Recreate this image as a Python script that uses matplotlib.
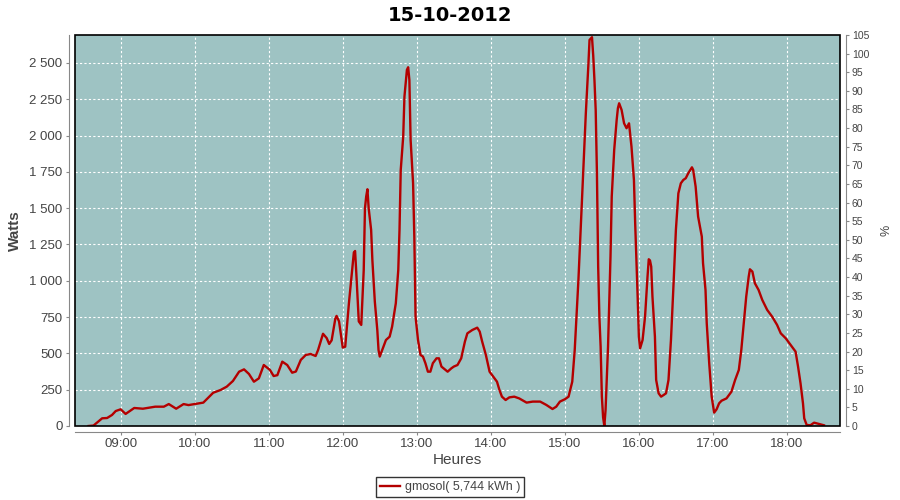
import matplotlib
matplotlib.use('Agg')
import matplotlib.pyplot as plt
import matplotlib.dates as mdates
from matplotlib.patches import Rectangle
from matplotlib.ticker import FuncFormatter, MultipleLocator
import pandas as pd

# puissance instantanee (W)
heures = ['08:34', '08:38', '08:45', '08:49', '08:53', '08:56', '09:00', '09:04',
          '09:11', '09:18', '09:28', '09:35', '09:39', '09:45', '09:51', '09:55',
          '10:00', '10:07', '10:15', '10:21', '10:26', '10:31', '10:36', '10:40',
          '10:44', '10:48', '10:52', '10:56', '11:01', '11:04', '11:07', '11:11',
          '11:15', '11:19', '11:22', '11:26', '11:30', '11:34', '11:38', '11:40',
          '11:44', '11:47', '11:49', '11:51', '11:54', '11:55', '11:57', '12:00',
          '12:02', '12:05', '12:07', '12:09', '12:10', '12:11', '12:13', '12:15',
          '12:17', '12:18', '12:19', '12:20', '12:21', '12:23', '12:24', '12:26',
          '12:28', '12:29', '12:30', '12:32', '12:35', '12:38', '12:40', '12:43',
          '12:45', '12:46', '12:47', '12:49', '12:50', '12:52', '12:53', '12:54',
          '12:55', '12:57', '12:58', '12:59', '13:01', '13:03', '13:05', '13:07',
          '13:09', '13:11', '13:13', '13:16', '13:18', '13:20', '13:25', '13:28',
          '13:30', '13:33', '13:36', '13:39', '13:41', '13:45', '13:49', '13:51',
          '13:53', '13:56', '13:59', '14:02', '14:05', '14:07', '14:09', '14:12',
          '14:15', '14:19', '14:23', '14:29', '14:34', '14:40', '14:45', '14:50',
          '14:53', '14:56', '15:00', '15:03', '15:06', '15:08', '15:11', '15:14',
          '15:17', '15:19', '15:20', '15:22', '15:23', '15:24', '15:25', '15:26',
          '15:27', '15:28', '15:29', '15:30', '15:31', '15:32', '15:33', '15:35',
          '15:37', '15:38', '15:40', '15:42', '15:43', '15:44', '15:46', '15:48',
          '15:50', '15:52', '15:54', '15:56', '15:57', '15:59', '16:00', '16:01',
          '16:03', '16:05', '16:07', '16:08', '16:09', '16:10', '16:11', '16:13',
          '16:14', '16:16', '16:18', '16:20', '16:22', '16:24', '16:26', '16:28',
          '16:30', '16:32', '16:34', '16:36', '16:38', '16:40', '16:43', '16:44',
          '16:46', '16:48', '16:51', '16:52', '16:54', '16:55', '16:57', '16:59',
          '17:01', '17:03', '17:05', '17:07', '17:11', '17:15', '17:18', '17:21',
          '17:23', '17:25', '17:27', '17:29', '17:30', '17:32', '17:34', '17:37',
          '17:40', '17:44', '17:48', '17:52', '17:55', '17:59', '18:01', '18:04',
          '18:07', '18:09', '18:11', '18:13', '18:14', '18:16', '18:19', '18:22',
          '18:26', '18:30']
watts = [0, 3, 53, 55, 76, 103, 115, 83,
         124, 119, 133, 133, 151, 119, 151, 144,
         151, 161, 229, 248, 271, 310, 374, 390,
         358, 305, 328, 420, 386, 344, 350, 443,
         420, 367, 375, 455, 489, 496, 482, 523,
         635, 605, 565, 590, 740, 758, 720, 540,
         546, 845, 1017, 1195, 1205, 1051, 720, 696,
         1074, 1499, 1580, 1630, 1500, 1350, 1143, 856,
         661, 523, 478, 523, 592, 615, 684, 845,
         1074, 1350, 1763, 1993, 2268, 2452, 2470, 2383,
         1970, 1671, 1304, 753, 592, 489, 478, 432,
         374, 374, 432, 466, 466, 409, 374, 397,
         409, 420, 466, 581, 638, 661, 677, 650,
         581, 489, 374, 340, 305, 248, 202, 179,
         197, 202, 190, 161, 168, 168, 145, 117,
         133, 168, 184, 202, 305, 523, 1005, 1579,
         2153, 2475, 2658, 2677, 2550, 2380, 2176, 1740,
         1100, 750, 546, 202, 60, 0, 110, 546,
         1166, 1579, 1901, 2107, 2188, 2222, 2176, 2084,
         2050, 2084, 1924, 1694, 1396, 891, 615, 535,
         592, 753, 1028, 1148, 1140, 1097, 891, 615,
         317, 225, 202, 213, 225, 317, 592, 960,
         1350, 1602, 1671, 1694, 1706, 1740, 1781, 1763,
         1648, 1442, 1304, 1120, 937, 707, 432, 202,
         92, 115, 156, 174, 190, 236, 317, 386,
         523, 707, 891, 1028, 1079, 1063, 983, 937,
         868, 799, 753, 696, 638, 604, 581, 546,
         512, 409, 294, 156, 53, 7, 5, 23,
         14, 5]

jour = '2012-10-15'
t = pd.to_datetime([jour + ' ' + h for h in heures])

fond = '#9ec3c3'
rouge = '#b40000'
gris = '#444444'
axe = '#888888'

plt.rcParams['font.family'] = ['Liberation Sans', 'DejaVu Sans']

fig = plt.figure(figsize=(9, 5), dpi=100)
ax = fig.add_axes([75/900, 1-426/500, 765/900, 391/500])
ax.set_facecolor(fond)

ax.plot(t, watts, color=rouge, lw=1.7, label='gmosol( 5,744 kWh )', zorder=3)

ax.set_xlim(pd.Timestamp(jour + ' 08:23'), pd.Timestamp(jour + ' 18:43'))
ax.set_ylim(0, 2692)
ax.yaxis.set_major_locator(MultipleLocator(250))
ax.yaxis.set_major_formatter(FuncFormatter(lambda v, p: f'{v:,.0f}'.replace(',', ' ')))
ax.xaxis.set_major_locator(mdates.HourLocator())
ax.xaxis.set_major_formatter(mdates.DateFormatter('%H:%M'))

ax.grid(True, color='white', ls=(0, (2, 2)), lw=0.8)
ax.set_axisbelow(True)

for s in ['top', 'right']:
    ax.spines[s].set_visible(False)
for s in ['left', 'bottom']:
    ax.spines[s].set_position(('outward', 4))
    ax.spines[s].set_color(axe)
ax.tick_params(colors=axe, labelcolor=gris, labelsize=9.5, width=0.8)
ax.tick_params(axis='x', length=2, pad=2.5)
ax.tick_params(axis='y', length=2.5, pad=2.5)

# cadre noir du graphe
ax.add_patch(Rectangle((0, 0), 1, 1, transform=ax.transAxes, fill=False,
                       ec='black', lw=1.2, zorder=5, clip_on=False))

ax2 = ax.twinx()
ax2.set_ylim(0, 105)
ax2.yaxis.set_major_locator(MultipleLocator(5))
for s in ['top', 'left', 'bottom']:
    ax2.spines[s].set_visible(False)
ax2.spines['right'].set_position(('outward', 4))
ax2.spines['right'].set_color(axe)
ax2.tick_params(colors=axe, labelcolor=gris, labelsize=7.5, length=2.5, width=0.8, pad=2)

ax.set_ylabel('Watts', fontsize=11, color=gris, fontweight='bold')
ax.yaxis.set_label_coords((22 - 75) / 765, 0.5)
ax.set_xlabel('Heures', fontsize=11, color=gris)
ax.xaxis.set_label_coords(0.5, (426 - 453) / 391)
ax2.set_ylabel('%', fontsize=9, color=gris)
ax2.yaxis.set_label_coords((880 - 75) / 765, 0.5)

fig.suptitle('15-10-2012', x=0.5, y=0.988, fontsize=14, fontweight='bold',
             family=['DejaVu Sans'])

leg = fig.legend(loc='center', bbox_to_anchor=(0.5, 1-487/500), frameon=True,
                 fancybox=False, fontsize=9, handlelength=1.6, handletextpad=0.4,
                 borderpad=0.3, labelcolor=gris)
leg.get_frame().set_edgecolor('black')
leg.get_frame().set_linewidth(1.0)

fig.savefig('out.png', dpi=100)
